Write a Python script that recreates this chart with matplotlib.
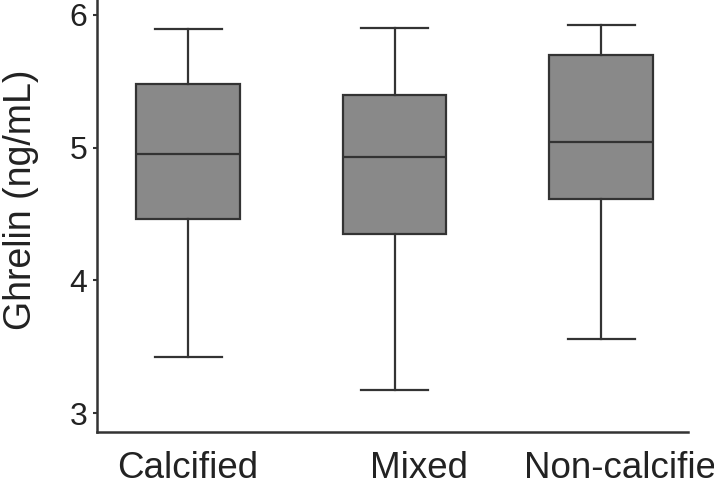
import matplotlib
matplotlib.use("Agg")
import matplotlib.pyplot as plt

groups = ["Calcified", "Mixed", "Non-calcified"]
whisker_low = [3.42, 3.17, 3.56]
q1 = [4.46, 4.35, 4.61]
median = [4.95, 4.93, 5.04]
q3 = [5.48, 5.40, 5.70]
whisker_high = [5.895, 5.90, 5.925]
yticks = [3, 4, 5, 6]

plt.rcParams['font.family'] = ['Liberation Sans', 'DejaVu Sans']

stats = []
for i, g in enumerate(groups):
    stats.append({'label': g, 'whislo': whisker_low[i], 'q1': q1[i], 'med': median[i],
                  'q3': q3[i], 'whishi': whisker_high[i], 'fliers': []})

fig = plt.figure(figsize=(7.14, 4.78), dpi=100)
ax = fig.add_axes([97 / 714, 46 / 478, (688 - 97) / 714, 432 / 478])

line_col = '#333333'
ax.bxp(stats, positions=[1, 2, 3], widths=0.5, capwidths=0.325, patch_artist=True,
       showfliers=False,
       boxprops=dict(facecolor='#898989', edgecolor=line_col, linewidth=1.6),
       medianprops=dict(color=line_col, linewidth=1.6),
       whiskerprops=dict(color=line_col, linewidth=1.6),
       capprops=dict(color=line_col, linewidth=1.6))

ax.set_xlim(0.559, 3.421)
ax.set_ylim(2.857, 6.113)
ax.set_yticks(yticks)
ax.set_yticklabels([str(t) for t in yticks], fontsize=23, color='#222222')
ax.tick_params(axis='y', length=3, width=1.5, pad=4, color=line_col)

# x labels sit a little off the box centres in the original
ax.set_xticks([1, 2.12, 3.14])
ax.set_xticklabels(groups, fontsize=26.5, color='#222222')
ax.tick_params(axis='x', length=0, pad=14)

ax.set_ylabel('Ghrelin (ng/mL)', fontsize=27, color='#222222')
ax.yaxis.set_label_coords(-0.098, 0.537)

for side in ['top', 'right']:
    ax.spines[side].set_visible(False)
for side in ['left', 'bottom']:
    ax.spines[side].set_linewidth(1.8)
    ax.spines[side].set_color(line_col)

fig.savefig('out.png', dpi=100)
